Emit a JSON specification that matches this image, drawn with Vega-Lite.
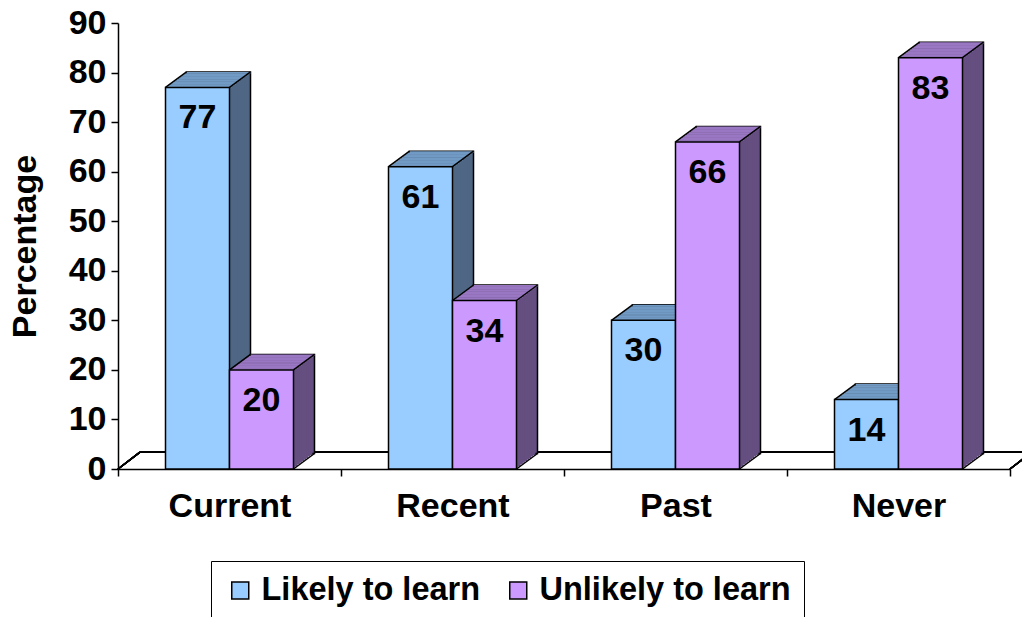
{
  "$schema": "https://vega.github.io/schema/vega-lite/v6.json",
  "width": 892,
  "height": 446,
  "autosize": {"type": "none"},
  "padding": {"left": 118, "top": 23, "right": 12, "bottom": 148},
  "background": "white",
  "config": {
    "view": {"stroke": null},
    "font": "Liberation Sans",
    "axis": {
      "domainColor": "black", "domainWidth": 1.5,
      "tickColor": "black", "tickWidth": 1.5, "tickSize": 7,
      "labelFont": "Liberation Sans", "labelFontWeight": "bold", "labelFontSize": 34, "labelColor": "black",
      "titleFont": "Liberation Sans", "titleFontWeight": "bold", "titleFontSize": 34, "titleColor": "black",
      "grid": false
    },
    "axisX": {"tickBand": "extent", "labelPadding": 13, "labelAngle": 0},
    "axisY": {"labelPadding": 5}
  },
  "data": {
    "values": [
      {"cat": "Current", "group": "Likely to learn", "value": 77},
      {"cat": "Current", "group": "Unlikely to learn", "value": 20},
      {"cat": "Recent", "group": "Likely to learn", "value": 61},
      {"cat": "Recent", "group": "Unlikely to learn", "value": 34},
      {"cat": "Past", "group": "Likely to learn", "value": 30},
      {"cat": "Past", "group": "Unlikely to learn", "value": 66},
      {"cat": "Never", "group": "Likely to learn", "value": 14},
      {"cat": "Never", "group": "Unlikely to learn", "value": 83}
    ]
  },
  "layer": [
    {
      "mark": {"type": "rule", "color": "black", "strokeWidth": 1.5, "xOffset": 22, "x2Offset": 22},
      "encoding": {
        "x": {"datum": "Current", "type": "nominal", "bandPosition": 0, "scale": {"domain": ["Current", "Recent", "Past", "Never"], "paddingInner": 0, "paddingOuter": 0}, "title": null},
        "x2": {"datum": "Never", "bandPosition": 1},
        "y": {"datum": 3.4, "type": "quantitative"}
      }
    },
    {
      "mark": {"type": "rule", "color": "black", "strokeWidth": 1.5, "x2Offset": 22},
      "encoding": {
        "x": {"datum": "Current", "type": "nominal", "bandPosition": 0},
        "x2": {"datum": "Current", "bandPosition": 0},
        "y": {"datum": 0, "type": "quantitative"},
        "y2": {"datum": 3.4}
      }
    },
    {
      "mark": {"type": "rule", "color": "black", "strokeWidth": 1.5, "x2Offset": 22},
      "encoding": {
        "x": {"datum": "Never", "type": "nominal", "bandPosition": 1},
        "x2": {"datum": "Never", "bandPosition": 1},
        "y": {"datum": 0, "type": "quantitative"},
        "y2": {"datum": 3.4}
      }
    },
    {
      "transform": [{"filter": "datum.group === 'Likely to learn'"}],
      "encoding": {
        "x": {"field": "cat", "type": "nominal", "scale": {"domain": ["Current", "Recent", "Past", "Never"], "paddingInner": 0, "paddingOuter": 0}, "title": null},
        "y": {"field": "value", "type": "quantitative", "scale": {"domain": [0, 90]}, "title": "Percentage",
              "axis": {"values": [0, 10, 20, 30, 40, 50, 60, 70, 80, 90], "titleX": -93, "titleY": 223, "titleAngle": -90, "titleAlign": "center", "titleBaseline": "middle"}}
      },
      "layer": [
        {"mark": {"type": "bar", "width": 64, "color": "#4F6784", "xOffset": -11, "yOffset": -15.5, "y2Offset": -15.5, "stroke": "black", "strokeWidth": 1.5}, "encoding": {"y2": {"datum": 0}}},
        {"mark": {"type": "bar", "width": 64, "color": "#4F6784", "xOffset": -13.1, "yOffset": -13.95, "y2Offset": -13.95}, "encoding": {"y2": {"datum": 0}}},
        {"mark": {"type": "bar", "width": 64, "color": "#4F6784", "xOffset": -15.2, "yOffset": -12.4, "y2Offset": -12.4}, "encoding": {"y2": {"datum": 0}}},
        {"mark": {"type": "bar", "width": 64, "color": "#4F6784", "xOffset": -17.3, "yOffset": -10.85, "y2Offset": -10.85}, "encoding": {"y2": {"datum": 0}}},
        {"mark": {"type": "bar", "width": 64, "color": "#4F6784", "xOffset": -19.4, "yOffset": -9.3, "y2Offset": -9.3}, "encoding": {"y2": {"datum": 0}}},
        {"mark": {"type": "bar", "width": 64, "color": "#4F6784", "xOffset": -21.5, "yOffset": -7.75, "y2Offset": -7.75}, "encoding": {"y2": {"datum": 0}}},
        {"mark": {"type": "bar", "width": 64, "color": "#4F6784", "xOffset": -23.6, "yOffset": -6.2, "y2Offset": -6.2}, "encoding": {"y2": {"datum": 0}}},
        {"mark": {"type": "bar", "width": 64, "color": "#4F6784", "xOffset": -25.7, "yOffset": -4.65, "y2Offset": -4.65}, "encoding": {"y2": {"datum": 0}}},
        {"mark": {"type": "bar", "width": 64, "color": "#4F6784", "xOffset": -27.8, "yOffset": -3.1, "y2Offset": -3.1}, "encoding": {"y2": {"datum": 0}}},
        {"mark": {"type": "bar", "width": 64, "color": "#4F6784", "xOffset": -29.9, "yOffset": -1.55, "y2Offset": -1.55}, "encoding": {"y2": {"datum": 0}}},
        {"mark": {"type": "bar", "width": 64, "color": "#719AC4", "xOffset": -11, "yOffset": -15.5, "y2Offset": -13.8}, "encoding": {"y2": {"field": "value"}}},
        {"mark": {"type": "bar", "width": 64, "color": "#719AC4", "xOffset": -13.1, "yOffset": -13.95, "y2Offset": -12.25}, "encoding": {"y2": {"field": "value"}}},
        {"mark": {"type": "bar", "width": 64, "color": "#719AC4", "xOffset": -15.2, "yOffset": -12.4, "y2Offset": -10.7}, "encoding": {"y2": {"field": "value"}}},
        {"mark": {"type": "bar", "width": 64, "color": "#719AC4", "xOffset": -17.3, "yOffset": -10.85, "y2Offset": -9.15}, "encoding": {"y2": {"field": "value"}}},
        {"mark": {"type": "bar", "width": 64, "color": "#719AC4", "xOffset": -19.4, "yOffset": -9.3, "y2Offset": -7.6}, "encoding": {"y2": {"field": "value"}}},
        {"mark": {"type": "bar", "width": 64, "color": "#719AC4", "xOffset": -21.5, "yOffset": -7.75, "y2Offset": -6.05}, "encoding": {"y2": {"field": "value"}}},
        {"mark": {"type": "bar", "width": 64, "color": "#719AC4", "xOffset": -23.6, "yOffset": -6.2, "y2Offset": -4.5}, "encoding": {"y2": {"field": "value"}}},
        {"mark": {"type": "bar", "width": 64, "color": "#719AC4", "xOffset": -25.7, "yOffset": -4.65, "y2Offset": -2.95}, "encoding": {"y2": {"field": "value"}}},
        {"mark": {"type": "bar", "width": 64, "color": "#719AC4", "xOffset": -27.8, "yOffset": -3.1, "y2Offset": -1.4}, "encoding": {"y2": {"field": "value"}}},
        {"mark": {"type": "bar", "width": 64, "color": "#719AC4", "xOffset": -29.9, "yOffset": -1.55, "y2Offset": 0.15}, "encoding": {"y2": {"field": "value"}}},
        {"mark": {"type": "rule", "color": "black", "strokeWidth": 1.5, "xOffset": -64, "x2Offset": -43, "y2Offset": -15.5},
         "encoding": {"x": {"field": "cat", "type": "nominal", "bandPosition": 0.5}, "x2": {"field": "cat", "bandPosition": 0.5}, "y2": {"field": "value"}}},
        {"mark": {"type": "rule", "color": "black", "strokeWidth": 1.5, "xOffset": 0.01, "x2Offset": 21, "y2Offset": -15.5},
         "encoding": {"x": {"field": "cat", "type": "nominal", "bandPosition": 0.5}, "x2": {"field": "cat", "bandPosition": 0.5}, "y2": {"field": "value"}}},
        {"mark": {"type": "bar", "stroke": "black", "strokeWidth": 1.5},
         "encoding": {
           "y2": {"datum": 0},
           "xOffset": {"field": "group", "type": "nominal", "scale": {"domain": ["Likely to learn", "Unlikely to learn"], "paddingInner": 0, "paddingOuter": 0.7421875}},
           "color": {"field": "group", "type": "nominal", "scale": {"domain": ["Likely to learn", "Unlikely to learn"], "range": ["#99CCFF", "#CC99FF"]},
           "legend": {"title": null, "orient": "none", "legendX": 93, "legendY": 538, "direction": "horizontal", "symbolType": "square", "symbolSize": 289, "symbolStrokeColor": "black", "symbolStrokeWidth": 1.5, "symbolOpacity": 1, "labelFont": "Liberation Sans", "labelFontWeight": "bold", "labelFontSize": 32.5, "labelColor": "black", "labelOffset": 5, "columnPadding": 21, "padding": 13, "strokeColor": "black", "fillColor": "white", "labelLimit": 0}}}}
      ]
    },
    {
      "transform": [{"filter": "datum.group === 'Unlikely to learn'"}],
      "encoding": {
        "x": {"field": "cat", "type": "nominal", "scale": {"domain": ["Current", "Recent", "Past", "Never"], "paddingInner": 0, "paddingOuter": 0}, "title": null},
        "y": {"field": "value", "type": "quantitative", "scale": {"domain": [0, 90]}, "title": "Percentage",
              "axis": {"values": [0, 10, 20, 30, 40, 50, 60, 70, 80, 90], "titleX": -93, "titleY": 223, "titleAngle": -90, "titleAlign": "center", "titleBaseline": "middle"}}
      },
      "layer": [
        {"mark": {"type": "bar", "width": 64, "color": "#654E80", "xOffset": 53, "yOffset": -15.5, "y2Offset": -15.5, "stroke": "black", "strokeWidth": 1.5}, "encoding": {"y2": {"datum": 0}}},
        {"mark": {"type": "bar", "width": 64, "color": "#654E80", "xOffset": 50.9, "yOffset": -13.95, "y2Offset": -13.95}, "encoding": {"y2": {"datum": 0}}},
        {"mark": {"type": "bar", "width": 64, "color": "#654E80", "xOffset": 48.8, "yOffset": -12.4, "y2Offset": -12.4}, "encoding": {"y2": {"datum": 0}}},
        {"mark": {"type": "bar", "width": 64, "color": "#654E80", "xOffset": 46.7, "yOffset": -10.85, "y2Offset": -10.85}, "encoding": {"y2": {"datum": 0}}},
        {"mark": {"type": "bar", "width": 64, "color": "#654E80", "xOffset": 44.6, "yOffset": -9.3, "y2Offset": -9.3}, "encoding": {"y2": {"datum": 0}}},
        {"mark": {"type": "bar", "width": 64, "color": "#654E80", "xOffset": 42.5, "yOffset": -7.75, "y2Offset": -7.75}, "encoding": {"y2": {"datum": 0}}},
        {"mark": {"type": "bar", "width": 64, "color": "#654E80", "xOffset": 40.4, "yOffset": -6.2, "y2Offset": -6.2}, "encoding": {"y2": {"datum": 0}}},
        {"mark": {"type": "bar", "width": 64, "color": "#654E80", "xOffset": 38.3, "yOffset": -4.65, "y2Offset": -4.65}, "encoding": {"y2": {"datum": 0}}},
        {"mark": {"type": "bar", "width": 64, "color": "#654E80", "xOffset": 36.2, "yOffset": -3.1, "y2Offset": -3.1}, "encoding": {"y2": {"datum": 0}}},
        {"mark": {"type": "bar", "width": 64, "color": "#654E80", "xOffset": 34.1, "yOffset": -1.55, "y2Offset": -1.55}, "encoding": {"y2": {"datum": 0}}},
        {"mark": {"type": "bar", "width": 64, "color": "#9A77C3", "xOffset": 53, "yOffset": -15.5, "y2Offset": -13.8}, "encoding": {"y2": {"field": "value"}}},
        {"mark": {"type": "bar", "width": 64, "color": "#9A77C3", "xOffset": 50.9, "yOffset": -13.95, "y2Offset": -12.25}, "encoding": {"y2": {"field": "value"}}},
        {"mark": {"type": "bar", "width": 64, "color": "#9A77C3", "xOffset": 48.8, "yOffset": -12.4, "y2Offset": -10.7}, "encoding": {"y2": {"field": "value"}}},
        {"mark": {"type": "bar", "width": 64, "color": "#9A77C3", "xOffset": 46.7, "yOffset": -10.85, "y2Offset": -9.15}, "encoding": {"y2": {"field": "value"}}},
        {"mark": {"type": "bar", "width": 64, "color": "#9A77C3", "xOffset": 44.6, "yOffset": -9.3, "y2Offset": -7.6}, "encoding": {"y2": {"field": "value"}}},
        {"mark": {"type": "bar", "width": 64, "color": "#9A77C3", "xOffset": 42.5, "yOffset": -7.75, "y2Offset": -6.05}, "encoding": {"y2": {"field": "value"}}},
        {"mark": {"type": "bar", "width": 64, "color": "#9A77C3", "xOffset": 40.4, "yOffset": -6.2, "y2Offset": -4.5}, "encoding": {"y2": {"field": "value"}}},
        {"mark": {"type": "bar", "width": 64, "color": "#9A77C3", "xOffset": 38.3, "yOffset": -4.65, "y2Offset": -2.95}, "encoding": {"y2": {"field": "value"}}},
        {"mark": {"type": "bar", "width": 64, "color": "#9A77C3", "xOffset": 36.2, "yOffset": -3.1, "y2Offset": -1.4}, "encoding": {"y2": {"field": "value"}}},
        {"mark": {"type": "bar", "width": 64, "color": "#9A77C3", "xOffset": 34.1, "yOffset": -1.55, "y2Offset": 0.15}, "encoding": {"y2": {"field": "value"}}},
        {"mark": {"type": "rule", "color": "black", "strokeWidth": 1.5, "xOffset": 0.01, "x2Offset": 21, "y2Offset": -15.5},
         "encoding": {"x": {"field": "cat", "type": "nominal", "bandPosition": 0.5}, "x2": {"field": "cat", "bandPosition": 0.5}, "y2": {"field": "value"}}},
        {"mark": {"type": "rule", "color": "black", "strokeWidth": 1.5, "xOffset": 64, "x2Offset": 85, "y2Offset": -15.5},
         "encoding": {"x": {"field": "cat", "type": "nominal", "bandPosition": 0.5}, "x2": {"field": "cat", "bandPosition": 0.5}, "y2": {"field": "value"}}},
        {"mark": {"type": "bar", "stroke": "black", "strokeWidth": 1.5},
         "encoding": {
           "y2": {"datum": 0},
           "xOffset": {"field": "group", "type": "nominal", "scale": {"domain": ["Likely to learn", "Unlikely to learn"], "paddingInner": 0, "paddingOuter": 0.7421875}},
           "color": {"field": "group", "type": "nominal", "scale": {"domain": ["Likely to learn", "Unlikely to learn"], "range": ["#99CCFF", "#CC99FF"]}}}}
      ]
    },
    {
      "transform": [{"filter": "datum.group === 'Unlikely to learn'"}],
      "mark": {"type": "rule", "color": "black", "strokeWidth": 1.5, "xOffset": 64, "x2Offset": 85, "y2Offset": -15.5},
      "encoding": {
        "x": {"field": "cat", "type": "nominal", "bandPosition": 0.5},
        "x2": {"field": "cat", "bandPosition": 0.5},
        "y": {"datum": 0, "type": "quantitative"},
        "y2": {"datum": 0}
      }
    },
    {
      "mark": {"type": "text", "font": "Liberation Sans", "fontWeight": "bold", "fontSize": 34, "baseline": "middle", "dy": 31, "color": "black"},
      "encoding": {
        "x": {"field": "cat", "type": "nominal"},
        "xOffset": {"field": "group", "type": "nominal"},
        "y": {"field": "value", "type": "quantitative"},
        "text": {"field": "value", "type": "quantitative"}
      }
    }
  ]
}
